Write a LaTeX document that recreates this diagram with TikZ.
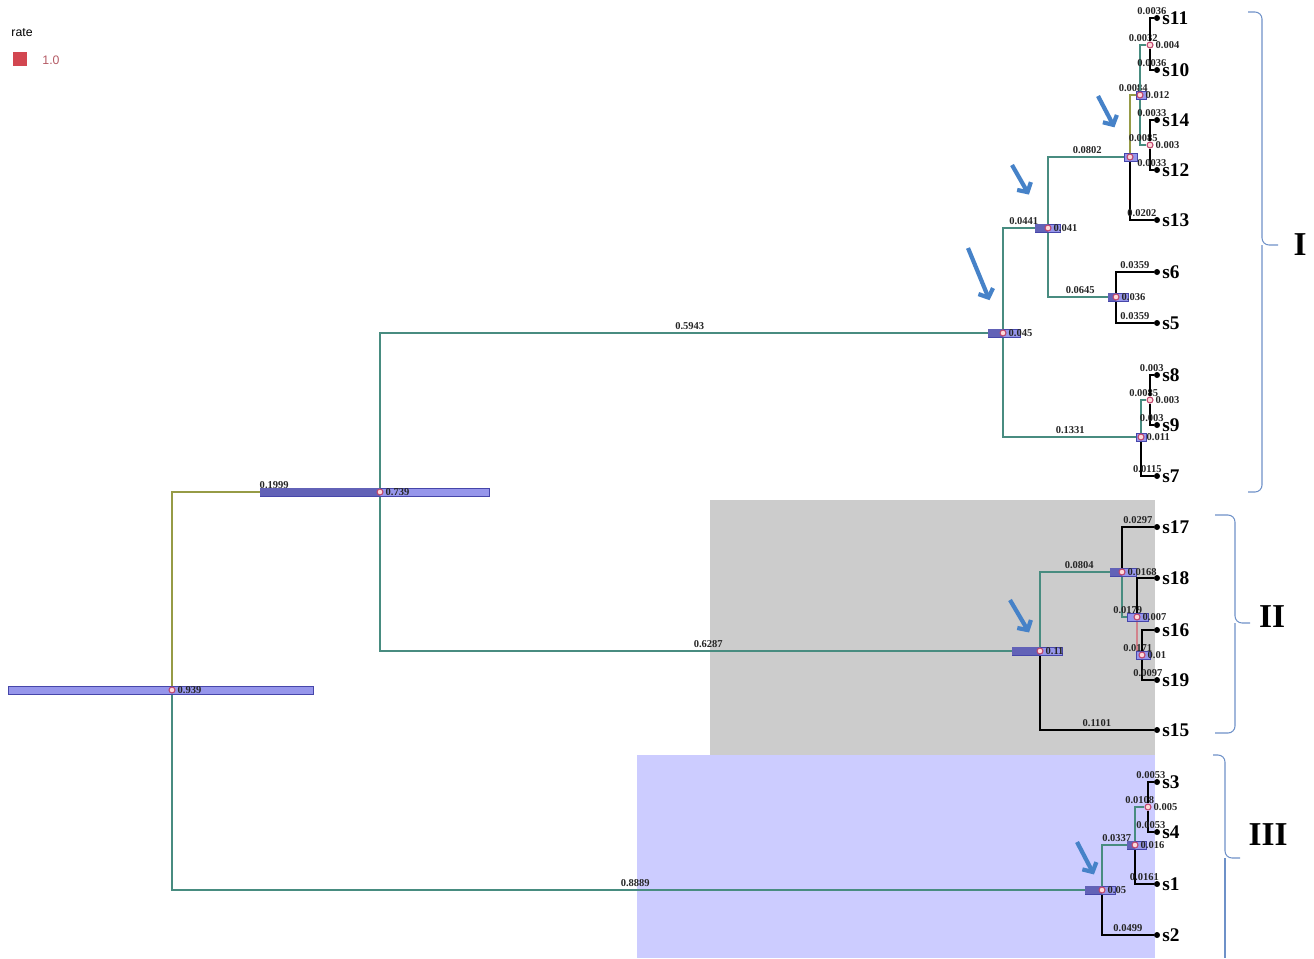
\documentclass[tikz,border=0pt]{standalone}
\usepackage{fontspec}
\setmainfont{Liberation Serif}
\setsansfont{Liberation Sans}
\usepackage{xcolor}
\usetikzlibrary{arrows.meta}

\definecolor{brteal}{RGB}{72,140,128}
\definecolor{brolive}{RGB}{150,155,70}
\definecolor{brpink}{RGB}{210,130,140}
\definecolor{hpdfill}{RGB}{150,150,235}
\definecolor{hpddark}{RGB}{70,70,170}
\definecolor{nodered}{RGB}{190,70,110}
\definecolor{arrblue}{RGB}{70,130,200}
\definecolor{bracecol}{RGB}{110,145,200}
\definecolor{cladegray}{RGB}{204,204,204}
\definecolor{cladeblue}{RGB}{204,204,255}
\definecolor{legred}{RGB}{210,70,80}
\definecolor{legval}{RGB}{180,90,100}

\pgfdeclarelayer{bg}
\pgfdeclarelayer{edges}
\pgfsetlayers{bg,edges,main}

\begin{document}
\begin{tikzpicture}[
    x=0.02cm, y=-0.02cm,
    br/.style={line width=1.6pt, brteal},
    tipbr/.style={line width=1.6pt, black},
    tip/.style={circle, fill=black, inner sep=0pt, minimum size=0.12cm},
    inode/.style={circle, draw=nodered, fill=pink!60, line width=0.6pt,
                  inner sep=0pt, minimum size=0.12cm},
    blab/.style={above, pos=0.75, inner sep=1pt, text=black!85,
                 font=\fontsize{6}{6}\selectfont\bfseries},
    nlab/.style={inner sep=1pt, text=black!85,
                 font=\fontsize{6}{6}\selectfont\bfseries},
    leaflab/.style={inner sep=1pt, font=\fontsize{11}{11}\selectfont\bfseries},
    hpd/.style={fill=hpdfill, draw=hpddark, line width=0.4pt},
    hpdcore/.style={fill=hpddark!85},
    pointer/.style={arrblue, line width=2.4pt,
                    -{Straight Barb[length=4pt, width=9pt]}},
    clade/.style={bracecol, line width=0.6pt, rounded corners=4pt},
    roman/.style={font=\fontsize{19}{19}\selectfont\bfseries},
]
\useasboundingbox (0,0) rectangle (1314,958);

% Clade shading
\begin{pgfonlayer}{bg}
\fill[cladegray] (710,500) rectangle (1155,755);
\fill[cladeblue] (637,755) rectangle (1155,958);
\end{pgfonlayer}

% Legend
\node[font=\sffamily\fontsize{7}{7}\selectfont] (rateT) at (22,33) {rate};
\node[fill=legred, minimum size=0.28cm, inner sep=0pt] (rateB) at (20,59) {};
\node[font=\sffamily\fontsize{7}{7}\selectfont, text=legval] (rateV) at (51,60) {1.0};

% HPD bars
\foreach \xa/\xb/\y in {8/313/690, 260/489/492, 988/1020/333, 1035/1060/228,
    1124/1137/157, 1136/1146/95, 1108/1128/297, 1136/1146/437,
    1012/1062/651, 1110/1136/572, 1127/1148/617, 1136/1150/655,
    1085/1115/890, 1127/1146/845}
  \draw[hpd] (\xa,\y-4) rectangle (\xb,\y+4);
\foreach \xa/\xb/\y in {260/380/492, 988/1003/333, 1035/1048/228,
    1108/1116/297, 1012/1040/651, 1110/1122/572, 1085/1102/890, 1127/1135/845}
  \fill[hpdcore] (\xa,\y-4) rectangle (\xb,\y+4);

% Internal nodes
\node[inode, label={[nlab]right:0.939}] (nR) at (172,690) {};
\node[inode, label={[nlab]right:0.739}] (nA) at (380,492) {};
\node[inode, label={[nlab]right:0.045}] (nB) at (1003,333) {};
\node[inode, label={[nlab]right:0.041}] (nC) at (1048,228) {};
\node[inode] (nD) at (1130,157) {};
\node[inode, label={[nlab]right:0.012}] (nE) at (1140,95) {};
\node[inode, label={[nlab]right:0.004}] (nF) at (1150,45) {};
\node[inode, label={[nlab]right:0.003}] (nG) at (1150,145) {};
\node[inode, label={[nlab]right:0.036}] (nH) at (1116,297) {};
\node[inode, label={[nlab]right:0.011}] (nI) at (1141,437) {};
\node[inode, label={[nlab]right:0.003}] (nJ) at (1150,400) {};
\node[inode, label={[nlab]right:0.11}] (nK) at (1040,651) {};
\node[inode, label={[nlab]right:0.0168}] (nL) at (1122,572) {};
\node[inode, label={[nlab]right:0.007}] (nM) at (1137,617) {};
\node[inode, label={[nlab]right:0.01}] (nN) at (1142,655) {};
\node[inode, label={[nlab]right:0.05}] (nO) at (1102,890) {};
\node[inode, label={[nlab]right:0.016}] (nP) at (1135,845) {};
\node[inode, label={[nlab]right:0.005}] (nQ) at (1148,807) {};

% Leaves
\foreach \s/\y in {s11/18, s10/70, s14/120, s12/170, s13/220, s6/272, s5/323,
    s8/375, s9/425, s7/476, s17/527, s18/578, s16/630, s19/680, s15/730,
    s3/782, s4/832, s1/884, s2/935}
  \node[tip, label={[leaflab]right:\s}] (\s) at (1157,\y) {};

% Branches
\begin{pgfonlayer}{edges}
\draw[br, brolive] (nR) |- node[blab] {0.1999} (nA);
\draw[br] (nR) |- node[blab] {0.8889} (nO);
\draw[br] (nA) |- node[blab] {0.5943} (nB);
\draw[br] (nA) |- node[blab] {0.6287} (nK);
% clade I
\draw[br] (nB) |- node[blab] {0.0441} (nC);
\draw[br] (nB) |- node[blab] {0.1331} (nI);
\draw[br] (nC) |- node[blab] {0.0802} (nD);
\draw[br] (nC) |- node[blab] {0.0645} (nH);
\draw[br, brolive] (nD) |- node[blab] {0.0084} (nE);
\draw[tipbr] (nD) |- node[blab] {0.0202} (s13);
\draw[br] (nE) |- node[blab] {0.0032} (nF);
\draw[br] (nE) |- node[blab] {0.0085} (nG);
\draw[tipbr] (nF) |- node[blab] {0.0036} (s11);
\draw[tipbr] (nF) |- node[blab] {0.0036} (s10);
\draw[tipbr] (nG) |- node[blab] {0.0033} (s14);
\draw[tipbr] (nG) |- node[blab] {0.0033} (s12);
\draw[tipbr] (nH) |- node[blab] {0.0359} (s6);
\draw[tipbr] (nH) |- node[blab] {0.0359} (s5);
\draw[br] (nI) |- node[blab] {0.0085} (nJ);
\draw[tipbr] (nI) |- node[blab] {0.0115} (s7);
\draw[tipbr] (nJ) |- node[blab] {0.003} (s8);
\draw[tipbr] (nJ) |- node[blab] {0.003} (s9);
% clade II
\draw[br] (nK) |- node[blab] {0.0804} (nL);
\draw[tipbr] (nK) |- node[blab] {0.1101} (s15);
\draw[tipbr] (nL) |- node[blab] {0.0297} (s17);
\draw[br] (nL) |- node[blab] {0.0179} (nM);
\draw[tipbr] (nM) |- (s18);
\draw[br, brpink] (nM) |- node[blab] {0.0171} (nN);
\draw[tipbr] (nN) |- (s16);
\draw[tipbr] (nN) |- node[blab] {0.0097} (s19);
% clade III
\draw[br] (nO) |- node[blab] {0.0337} (nP);
\draw[tipbr] (nO) |- node[blab] {0.0499} (s2);
\draw[br] (nP) |- node[blab] {0.0108} (nQ);
\draw[tipbr] (nP) |- node[blab] {0.0161} (s1);
\draw[tipbr] (nQ) |- node[blab] {0.0053} (s3);
\draw[tipbr] (nQ) |- node[blab] {0.0053} (s4);
\end{pgfonlayer}

% Pointers
\coordinate (pD) at (1098,96);
\coordinate (pC) at (1012,165);
\coordinate (pB) at (968,248);
\coordinate (pK) at (1010,600);
\coordinate (pO) at (1077,842);
\draw[pointer, shorten >=0.6cm] (pD) -- (nD);
\draw[pointer, shorten >=0.7cm] (pC) -- (nC);
\draw[pointer, shorten >=0.64cm] (pB) -- (nB);
\draw[pointer, shorten >=0.36cm] (pK) -- (nK);
\draw[pointer, shorten >=0.28cm] (pO) -- (nO);

% Clade brackets
\draw[clade] (1248,12) -| (1262,245) -- (1278,245);
\draw[clade] (1262,245) |- (1248,492);
\draw[clade] (1215,515) -| (1235,623) -- (1250,623);
\draw[clade] (1235,623) |- (1215,733);
\draw[clade] (1213,755) -| (1225,858) -- (1240,858);
\draw[clade] (1225,858) -- (1225,958);
\node[roman] (cI) at (1300,245) {I};
\node[roman] (cII) at (1272,617) {II};
\node[roman] (cIII) at (1268,835) {III};

\end{tikzpicture}
\end{document}
